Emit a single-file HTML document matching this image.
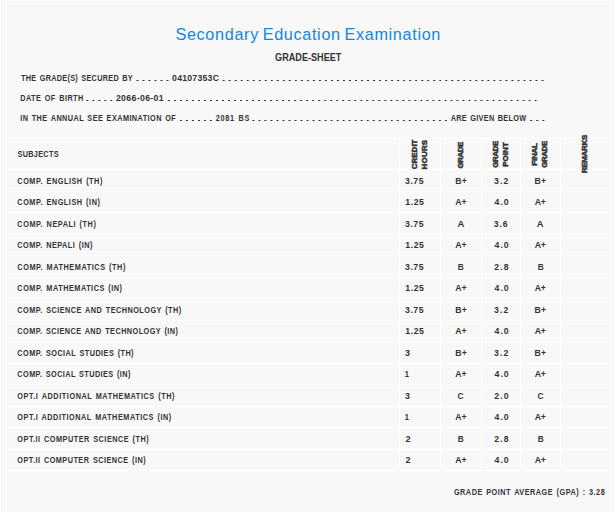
<!DOCTYPE html>
<html><head><meta charset="utf-8"><style>
html,body{margin:0;padding:0;background:#fff;width:614px;height:512px;overflow:hidden}
svg{display:block;font-family:"Liberation Sans",sans-serif}
</style></head><body>
<svg width="614" height="512" viewBox="0 0 614 512">
<rect x="0" y="0" width="614" height="512" fill="#ffffff"/>
<rect x="1" y="0" width="5" height="512" fill="#f8f8f8"/>
<rect x="7" y="1" width="603" height="511" fill="#f8f8f8"/>
<rect x="611" y="0" width="3" height="512" fill="#f8f8f8"/>
<g fill="#ffffff">
<rect x="7" y="138" width="603" height="1"/>
<rect x="7" y="169" width="603" height="1"/>
<rect x="7" y="191" width="603" height="1"/>
<rect x="7" y="212" width="603" height="1"/>
<rect x="7" y="234" width="603" height="1"/>
<rect x="7" y="255" width="603" height="1"/>
<rect x="7" y="277" width="603" height="1"/>
<rect x="7" y="298" width="603" height="1"/>
<rect x="7" y="320" width="603" height="1"/>
<rect x="7" y="341" width="603" height="1"/>
<rect x="7" y="363" width="603" height="1"/>
<rect x="7" y="384" width="603" height="1"/>
<rect x="7" y="406" width="603" height="1"/>
<rect x="7" y="427" width="603" height="1"/>
<rect x="7" y="449" width="603" height="1"/>
<rect x="7" y="470" width="603" height="1"/>
<rect x="399" y="138" width="1" height="333"/>
<rect x="440" y="138" width="1" height="333"/>
<rect x="481" y="138" width="1" height="333"/>
<rect x="520" y="138" width="1" height="333"/>
<rect x="560" y="138" width="1" height="333"/>
</g>
<g fill="#333333">
<rect x="136.50" y="80" width="2" height="1"/>
<rect x="142.50" y="80" width="2" height="1"/>
<rect x="148.50" y="80" width="2" height="1"/>
<rect x="154.50" y="80" width="2" height="1"/>
<rect x="160.50" y="80" width="2" height="1"/>
<rect x="166.50" y="80" width="2" height="1"/>
<rect x="222.65" y="80" width="2" height="1"/>
<rect x="228.67" y="80" width="2" height="1"/>
<rect x="234.68" y="80" width="2" height="1"/>
<rect x="240.70" y="80" width="2" height="1"/>
<rect x="246.71" y="80" width="2" height="1"/>
<rect x="252.73" y="80" width="2" height="1"/>
<rect x="258.75" y="80" width="2" height="1"/>
<rect x="264.76" y="80" width="2" height="1"/>
<rect x="270.78" y="80" width="2" height="1"/>
<rect x="276.79" y="80" width="2" height="1"/>
<rect x="282.81" y="80" width="2" height="1"/>
<rect x="288.83" y="80" width="2" height="1"/>
<rect x="294.84" y="80" width="2" height="1"/>
<rect x="300.86" y="80" width="2" height="1"/>
<rect x="306.87" y="80" width="2" height="1"/>
<rect x="312.89" y="80" width="2" height="1"/>
<rect x="318.91" y="80" width="2" height="1"/>
<rect x="324.92" y="80" width="2" height="1"/>
<rect x="330.94" y="80" width="2" height="1"/>
<rect x="336.95" y="80" width="2" height="1"/>
<rect x="342.97" y="80" width="2" height="1"/>
<rect x="348.99" y="80" width="2" height="1"/>
<rect x="355.00" y="80" width="2" height="1"/>
<rect x="361.02" y="80" width="2" height="1"/>
<rect x="367.03" y="80" width="2" height="1"/>
<rect x="373.05" y="80" width="2" height="1"/>
<rect x="379.07" y="80" width="2" height="1"/>
<rect x="385.08" y="80" width="2" height="1"/>
<rect x="391.10" y="80" width="2" height="1"/>
<rect x="397.12" y="80" width="2" height="1"/>
<rect x="403.13" y="80" width="2" height="1"/>
<rect x="409.15" y="80" width="2" height="1"/>
<rect x="415.16" y="80" width="2" height="1"/>
<rect x="421.18" y="80" width="2" height="1"/>
<rect x="427.20" y="80" width="2" height="1"/>
<rect x="433.21" y="80" width="2" height="1"/>
<rect x="439.23" y="80" width="2" height="1"/>
<rect x="445.24" y="80" width="2" height="1"/>
<rect x="451.26" y="80" width="2" height="1"/>
<rect x="457.28" y="80" width="2" height="1"/>
<rect x="463.29" y="80" width="2" height="1"/>
<rect x="469.31" y="80" width="2" height="1"/>
<rect x="475.32" y="80" width="2" height="1"/>
<rect x="481.34" y="80" width="2" height="1"/>
<rect x="487.36" y="80" width="2" height="1"/>
<rect x="493.37" y="80" width="2" height="1"/>
<rect x="499.39" y="80" width="2" height="1"/>
<rect x="505.40" y="80" width="2" height="1"/>
<rect x="511.42" y="80" width="2" height="1"/>
<rect x="517.44" y="80" width="2" height="1"/>
<rect x="523.45" y="80" width="2" height="1"/>
<rect x="529.47" y="80" width="2" height="1"/>
<rect x="535.48" y="80" width="2" height="1"/>
<rect x="541.50" y="80" width="2" height="1"/>
<rect x="86.40" y="100" width="2" height="1"/>
<rect x="92.38" y="100" width="2" height="1"/>
<rect x="98.35" y="100" width="2" height="1"/>
<rect x="104.33" y="100" width="2" height="1"/>
<rect x="110.30" y="100" width="2" height="1"/>
<rect x="167.90" y="100" width="2" height="1"/>
<rect x="173.91" y="100" width="2" height="1"/>
<rect x="179.92" y="100" width="2" height="1"/>
<rect x="185.93" y="100" width="2" height="1"/>
<rect x="191.95" y="100" width="2" height="1"/>
<rect x="197.96" y="100" width="2" height="1"/>
<rect x="203.97" y="100" width="2" height="1"/>
<rect x="209.98" y="100" width="2" height="1"/>
<rect x="215.99" y="100" width="2" height="1"/>
<rect x="222.00" y="100" width="2" height="1"/>
<rect x="228.01" y="100" width="2" height="1"/>
<rect x="234.03" y="100" width="2" height="1"/>
<rect x="240.04" y="100" width="2" height="1"/>
<rect x="246.05" y="100" width="2" height="1"/>
<rect x="252.06" y="100" width="2" height="1"/>
<rect x="258.07" y="100" width="2" height="1"/>
<rect x="264.08" y="100" width="2" height="1"/>
<rect x="270.10" y="100" width="2" height="1"/>
<rect x="276.11" y="100" width="2" height="1"/>
<rect x="282.12" y="100" width="2" height="1"/>
<rect x="288.13" y="100" width="2" height="1"/>
<rect x="294.14" y="100" width="2" height="1"/>
<rect x="300.15" y="100" width="2" height="1"/>
<rect x="306.16" y="100" width="2" height="1"/>
<rect x="312.18" y="100" width="2" height="1"/>
<rect x="318.19" y="100" width="2" height="1"/>
<rect x="324.20" y="100" width="2" height="1"/>
<rect x="330.21" y="100" width="2" height="1"/>
<rect x="336.22" y="100" width="2" height="1"/>
<rect x="342.23" y="100" width="2" height="1"/>
<rect x="348.24" y="100" width="2" height="1"/>
<rect x="354.26" y="100" width="2" height="1"/>
<rect x="360.27" y="100" width="2" height="1"/>
<rect x="366.28" y="100" width="2" height="1"/>
<rect x="372.29" y="100" width="2" height="1"/>
<rect x="378.30" y="100" width="2" height="1"/>
<rect x="384.31" y="100" width="2" height="1"/>
<rect x="390.32" y="100" width="2" height="1"/>
<rect x="396.34" y="100" width="2" height="1"/>
<rect x="402.35" y="100" width="2" height="1"/>
<rect x="408.36" y="100" width="2" height="1"/>
<rect x="414.37" y="100" width="2" height="1"/>
<rect x="420.38" y="100" width="2" height="1"/>
<rect x="426.39" y="100" width="2" height="1"/>
<rect x="432.40" y="100" width="2" height="1"/>
<rect x="438.42" y="100" width="2" height="1"/>
<rect x="444.43" y="100" width="2" height="1"/>
<rect x="450.44" y="100" width="2" height="1"/>
<rect x="456.45" y="100" width="2" height="1"/>
<rect x="462.46" y="100" width="2" height="1"/>
<rect x="468.47" y="100" width="2" height="1"/>
<rect x="474.49" y="100" width="2" height="1"/>
<rect x="480.50" y="100" width="2" height="1"/>
<rect x="486.51" y="100" width="2" height="1"/>
<rect x="492.52" y="100" width="2" height="1"/>
<rect x="498.53" y="100" width="2" height="1"/>
<rect x="504.54" y="100" width="2" height="1"/>
<rect x="510.55" y="100" width="2" height="1"/>
<rect x="516.57" y="100" width="2" height="1"/>
<rect x="522.58" y="100" width="2" height="1"/>
<rect x="528.59" y="100" width="2" height="1"/>
<rect x="534.60" y="100" width="2" height="1"/>
<rect x="179.90" y="120" width="2" height="1"/>
<rect x="185.90" y="120" width="2" height="1"/>
<rect x="191.90" y="120" width="2" height="1"/>
<rect x="197.90" y="120" width="2" height="1"/>
<rect x="203.90" y="120" width="2" height="1"/>
<rect x="209.90" y="120" width="2" height="1"/>
<rect x="252.40" y="120" width="2" height="1"/>
<rect x="258.42" y="120" width="2" height="1"/>
<rect x="264.43" y="120" width="2" height="1"/>
<rect x="270.45" y="120" width="2" height="1"/>
<rect x="276.46" y="120" width="2" height="1"/>
<rect x="282.48" y="120" width="2" height="1"/>
<rect x="288.49" y="120" width="2" height="1"/>
<rect x="294.51" y="120" width="2" height="1"/>
<rect x="300.52" y="120" width="2" height="1"/>
<rect x="306.54" y="120" width="2" height="1"/>
<rect x="312.56" y="120" width="2" height="1"/>
<rect x="318.57" y="120" width="2" height="1"/>
<rect x="324.59" y="120" width="2" height="1"/>
<rect x="330.60" y="120" width="2" height="1"/>
<rect x="336.62" y="120" width="2" height="1"/>
<rect x="342.63" y="120" width="2" height="1"/>
<rect x="348.65" y="120" width="2" height="1"/>
<rect x="354.67" y="120" width="2" height="1"/>
<rect x="360.68" y="120" width="2" height="1"/>
<rect x="366.70" y="120" width="2" height="1"/>
<rect x="372.71" y="120" width="2" height="1"/>
<rect x="378.73" y="120" width="2" height="1"/>
<rect x="384.74" y="120" width="2" height="1"/>
<rect x="390.76" y="120" width="2" height="1"/>
<rect x="396.77" y="120" width="2" height="1"/>
<rect x="402.79" y="120" width="2" height="1"/>
<rect x="408.81" y="120" width="2" height="1"/>
<rect x="414.82" y="120" width="2" height="1"/>
<rect x="420.84" y="120" width="2" height="1"/>
<rect x="426.85" y="120" width="2" height="1"/>
<rect x="432.87" y="120" width="2" height="1"/>
<rect x="438.88" y="120" width="2" height="1"/>
<rect x="444.90" y="120" width="2" height="1"/>
<rect x="530.20" y="120" width="2" height="1"/>
<rect x="536.30" y="120" width="2" height="1"/>
<rect x="542.40" y="120" width="2" height="1"/>
</g>
<text transform="translate(175.454 40) scale(0.9300 1)" font-size="17.4" font-weight="normal" fill="#0d87e9" style="letter-spacing:0.730px;word-spacing:-1.5px">Secondary Education Examination</text>
<text transform="translate(275.055 61) scale(0.8000 1)" font-size="11.4" font-weight="bold" fill="#333333" style="letter-spacing:0.008px">GRADE-SHEET</text>
<text transform="translate(21.020 81) scale(0.8400 1)" font-size="8.7" font-weight="bold" fill="#333333" style="letter-spacing:0.345px;word-spacing:1.1px">THE GRADE(S) SECURED BY</text>
<text transform="translate(172.068 81) scale(1.0000 1)" font-size="8.7" font-weight="bold" fill="#333333" style="letter-spacing:0.243px;word-spacing:1.1px">04107353C</text>
<text transform="translate(20.203 101) scale(0.8400 1)" font-size="8.7" font-weight="bold" fill="#333333" style="letter-spacing:0.543px;word-spacing:1.1px">DATE OF BIRTH</text>
<text transform="translate(115.888 101) scale(1.0000 1)" font-size="8.7" font-weight="bold" fill="#333333" style="letter-spacing:0.367px;word-spacing:1.1px">2066-06-01</text>
<text transform="translate(20.203 121) scale(0.8400 1)" font-size="8.7" font-weight="bold" fill="#333333" style="letter-spacing:0.513px;word-spacing:1.1px">IN THE ANNUAL SEE EXAMINATION OF</text>
<text transform="translate(215.772 121) scale(0.8400 1)" font-size="8.7" font-weight="bold" fill="#333333" style="letter-spacing:0.849px;word-spacing:1.1px">2081 BS</text>
<text transform="translate(450.726 121) scale(0.8400 1)" font-size="8.7" font-weight="bold" fill="#333333" style="letter-spacing:0.355px;word-spacing:1.1px">ARE GIVEN BELOW</text>
<text transform="translate(17.466 157) scale(0.8400 1)" font-size="8.7" font-weight="bold" fill="#333333" style="letter-spacing:0.378px;word-spacing:1.1px">SUBJECTS</text>
<text transform="translate(17.352 184) scale(0.8400 1)" font-size="8.7" font-weight="bold" fill="#333333" style="letter-spacing:0.641px;word-spacing:1.1px">COMP. ENGLISH (TH)</text>
<text transform="translate(405.024 184) scale(1.0000 1)" font-size="8.7" font-weight="bold" fill="#333333" style="letter-spacing:0.540px;word-spacing:1.1px">3.75</text>
<text transform="translate(455.216 184) scale(1.0000 1)" font-size="8.7" font-weight="bold" fill="#333333" style="letter-spacing:0.203px;word-spacing:1.1px">B+</text>
<text transform="translate(494.124 184) scale(1.0000 1)" font-size="8.7" font-weight="bold" fill="#333333" style="letter-spacing:1.079px;word-spacing:1.1px">3.2</text>
<text transform="translate(534.536 184) scale(1.0000 1)" font-size="8.7" font-weight="bold" fill="#333333" style="letter-spacing:0.203px;word-spacing:1.1px">B+</text>
<text transform="translate(17.352 205) scale(0.8400 1)" font-size="8.7" font-weight="bold" fill="#333333" style="letter-spacing:0.637px;word-spacing:1.1px">COMP. ENGLISH (IN)</text>
<text transform="translate(405.316 205) scale(1.0000 1)" font-size="8.7" font-weight="bold" fill="#333333" style="letter-spacing:0.543px;word-spacing:1.1px">1.25</text>
<text transform="translate(455.364 205) scale(1.0000 1)" font-size="8.7" font-weight="bold" fill="#333333" style="letter-spacing:-0.105px;word-spacing:1.1px">A+</text>
<text transform="translate(494.520 205) scale(1.0000 1)" font-size="8.7" font-weight="bold" fill="#333333" style="letter-spacing:1.029px;word-spacing:1.1px">4.0</text>
<text transform="translate(534.684 205) scale(1.0000 1)" font-size="8.7" font-weight="bold" fill="#333333" style="letter-spacing:-0.105px;word-spacing:1.1px">A+</text>
<text transform="translate(17.352 227) scale(0.8400 1)" font-size="8.7" font-weight="bold" fill="#333333" style="letter-spacing:0.660px;word-spacing:1.1px">COMP. NEPALI (TH)</text>
<text transform="translate(405.024 227) scale(1.0000 1)" font-size="8.7" font-weight="bold" fill="#333333" style="letter-spacing:0.540px;word-spacing:1.1px">3.75</text>
<text transform="translate(457.432 227) scale(1.0867 1)" font-size="8.7" font-weight="bold" fill="#333333" style="letter-spacing:0.000px;word-spacing:1.1px">A</text>
<text transform="translate(493.764 227) scale(1.0000 1)" font-size="8.7" font-weight="bold" fill="#333333" style="letter-spacing:0.879px;word-spacing:1.1px">3.6</text>
<text transform="translate(536.752 227) scale(1.0867 1)" font-size="8.7" font-weight="bold" fill="#333333" style="letter-spacing:0.000px;word-spacing:1.1px">A</text>
<text transform="translate(17.352 248) scale(0.8400 1)" font-size="8.7" font-weight="bold" fill="#333333" style="letter-spacing:0.581px;word-spacing:1.1px">COMP. NEPALI (IN)</text>
<text transform="translate(405.316 248) scale(1.0000 1)" font-size="8.7" font-weight="bold" fill="#333333" style="letter-spacing:0.543px;word-spacing:1.1px">1.25</text>
<text transform="translate(455.364 248) scale(1.0000 1)" font-size="8.7" font-weight="bold" fill="#333333" style="letter-spacing:-0.105px;word-spacing:1.1px">A+</text>
<text transform="translate(494.520 248) scale(1.0000 1)" font-size="8.7" font-weight="bold" fill="#333333" style="letter-spacing:1.029px;word-spacing:1.1px">4.0</text>
<text transform="translate(534.684 248) scale(1.0000 1)" font-size="8.7" font-weight="bold" fill="#333333" style="letter-spacing:-0.105px;word-spacing:1.1px">A+</text>
<text transform="translate(17.352 270) scale(0.8400 1)" font-size="8.7" font-weight="bold" fill="#333333" style="letter-spacing:0.666px;word-spacing:1.1px">COMP. MATHEMATICS (TH)</text>
<text transform="translate(405.024 270) scale(1.0000 1)" font-size="8.7" font-weight="bold" fill="#333333" style="letter-spacing:0.540px;word-spacing:1.1px">3.75</text>
<text transform="translate(457.640 270) scale(0.9563 1)" font-size="8.7" font-weight="bold" fill="#333333" style="letter-spacing:0.000px;word-spacing:1.1px">B</text>
<text transform="translate(494.248 270) scale(1.0000 1)" font-size="8.7" font-weight="bold" fill="#333333" style="letter-spacing:1.097px;word-spacing:1.1px">2.8</text>
<text transform="translate(537.660 270) scale(0.9563 1)" font-size="8.7" font-weight="bold" fill="#333333" style="letter-spacing:0.000px;word-spacing:1.1px">B</text>
<text transform="translate(17.352 291) scale(0.8400 1)" font-size="8.7" font-weight="bold" fill="#333333" style="letter-spacing:0.614px;word-spacing:1.1px">COMP. MATHEMATICS (IN)</text>
<text transform="translate(405.316 291) scale(1.0000 1)" font-size="8.7" font-weight="bold" fill="#333333" style="letter-spacing:0.543px;word-spacing:1.1px">1.25</text>
<text transform="translate(455.364 291) scale(1.0000 1)" font-size="8.7" font-weight="bold" fill="#333333" style="letter-spacing:-0.105px;word-spacing:1.1px">A+</text>
<text transform="translate(494.520 291) scale(1.0000 1)" font-size="8.7" font-weight="bold" fill="#333333" style="letter-spacing:1.029px;word-spacing:1.1px">4.0</text>
<text transform="translate(534.684 291) scale(1.0000 1)" font-size="8.7" font-weight="bold" fill="#333333" style="letter-spacing:-0.105px;word-spacing:1.1px">A+</text>
<text transform="translate(17.352 313) scale(0.8400 1)" font-size="8.7" font-weight="bold" fill="#333333" style="letter-spacing:0.569px;word-spacing:1.1px">COMP. SCIENCE AND TECHNOLOGY (TH)</text>
<text transform="translate(405.024 313) scale(1.0000 1)" font-size="8.7" font-weight="bold" fill="#333333" style="letter-spacing:0.540px;word-spacing:1.1px">3.75</text>
<text transform="translate(455.216 313) scale(1.0000 1)" font-size="8.7" font-weight="bold" fill="#333333" style="letter-spacing:0.203px;word-spacing:1.1px">B+</text>
<text transform="translate(494.124 313) scale(1.0000 1)" font-size="8.7" font-weight="bold" fill="#333333" style="letter-spacing:1.079px;word-spacing:1.1px">3.2</text>
<text transform="translate(534.536 313) scale(1.0000 1)" font-size="8.7" font-weight="bold" fill="#333333" style="letter-spacing:0.203px;word-spacing:1.1px">B+</text>
<text transform="translate(17.352 334) scale(0.8400 1)" font-size="8.7" font-weight="bold" fill="#333333" style="letter-spacing:0.536px;word-spacing:1.1px">COMP. SCIENCE AND TECHNOLOGY (IN)</text>
<text transform="translate(405.316 334) scale(1.0000 1)" font-size="8.7" font-weight="bold" fill="#333333" style="letter-spacing:0.543px;word-spacing:1.1px">1.25</text>
<text transform="translate(455.364 334) scale(1.0000 1)" font-size="8.7" font-weight="bold" fill="#333333" style="letter-spacing:-0.105px;word-spacing:1.1px">A+</text>
<text transform="translate(494.520 334) scale(1.0000 1)" font-size="8.7" font-weight="bold" fill="#333333" style="letter-spacing:1.029px;word-spacing:1.1px">4.0</text>
<text transform="translate(534.684 334) scale(1.0000 1)" font-size="8.7" font-weight="bold" fill="#333333" style="letter-spacing:-0.105px;word-spacing:1.1px">A+</text>
<text transform="translate(17.352 356) scale(0.8400 1)" font-size="8.7" font-weight="bold" fill="#333333" style="letter-spacing:0.536px;word-spacing:1.1px">COMP. SOCIAL STUDIES (TH)</text>
<text transform="translate(405.021 356) scale(1.0254 1)" font-size="8.7" font-weight="bold" fill="#333333" style="letter-spacing:0.000px;word-spacing:1.1px">3</text>
<text transform="translate(455.216 356) scale(1.0000 1)" font-size="8.7" font-weight="bold" fill="#333333" style="letter-spacing:0.203px;word-spacing:1.1px">B+</text>
<text transform="translate(494.124 356) scale(1.0000 1)" font-size="8.7" font-weight="bold" fill="#333333" style="letter-spacing:1.079px;word-spacing:1.1px">3.2</text>
<text transform="translate(534.536 356) scale(1.0000 1)" font-size="8.7" font-weight="bold" fill="#333333" style="letter-spacing:0.203px;word-spacing:1.1px">B+</text>
<text transform="translate(17.352 377) scale(0.8400 1)" font-size="8.7" font-weight="bold" fill="#333333" style="letter-spacing:0.499px;word-spacing:1.1px">COMP. SOCIAL STUDIES (IN)</text>
<text transform="translate(404.693 377) scale(0.8582 1)" font-size="8.7" font-weight="bold" fill="#333333" style="letter-spacing:0.000px;word-spacing:1.1px">1</text>
<text transform="translate(455.364 377) scale(1.0000 1)" font-size="8.7" font-weight="bold" fill="#333333" style="letter-spacing:-0.105px;word-spacing:1.1px">A+</text>
<text transform="translate(494.520 377) scale(1.0000 1)" font-size="8.7" font-weight="bold" fill="#333333" style="letter-spacing:1.029px;word-spacing:1.1px">4.0</text>
<text transform="translate(534.684 377) scale(1.0000 1)" font-size="8.7" font-weight="bold" fill="#333333" style="letter-spacing:-0.105px;word-spacing:1.1px">A+</text>
<text transform="translate(17.352 399) scale(0.8400 1)" font-size="8.7" font-weight="bold" fill="#333333" style="letter-spacing:0.677px;word-spacing:1.1px">OPT.I ADDITIONAL MATHEMATICS (TH)</text>
<text transform="translate(405.021 399) scale(1.0254 1)" font-size="8.7" font-weight="bold" fill="#333333" style="letter-spacing:0.000px;word-spacing:1.1px">3</text>
<text transform="translate(457.560 399) scale(0.9580 1)" font-size="8.7" font-weight="bold" fill="#333333" style="letter-spacing:0.000px;word-spacing:1.1px">C</text>
<text transform="translate(494.248 399) scale(1.0000 1)" font-size="8.7" font-weight="bold" fill="#333333" style="letter-spacing:1.165px;word-spacing:1.1px">2.0</text>
<text transform="translate(537.580 399) scale(0.9580 1)" font-size="8.7" font-weight="bold" fill="#333333" style="letter-spacing:0.000px;word-spacing:1.1px">C</text>
<text transform="translate(17.352 420) scale(0.8400 1)" font-size="8.7" font-weight="bold" fill="#333333" style="letter-spacing:0.643px;word-spacing:1.1px">OPT.I ADDITIONAL MATHEMATICS (IN)</text>
<text transform="translate(404.693 420) scale(0.8582 1)" font-size="8.7" font-weight="bold" fill="#333333" style="letter-spacing:0.000px;word-spacing:1.1px">1</text>
<text transform="translate(455.364 420) scale(1.0000 1)" font-size="8.7" font-weight="bold" fill="#333333" style="letter-spacing:-0.105px;word-spacing:1.1px">A+</text>
<text transform="translate(494.520 420) scale(1.0000 1)" font-size="8.7" font-weight="bold" fill="#333333" style="letter-spacing:1.029px;word-spacing:1.1px">4.0</text>
<text transform="translate(534.684 420) scale(1.0000 1)" font-size="8.7" font-weight="bold" fill="#333333" style="letter-spacing:-0.105px;word-spacing:1.1px">A+</text>
<text transform="translate(17.352 442) scale(0.8400 1)" font-size="8.7" font-weight="bold" fill="#333333" style="letter-spacing:0.595px;word-spacing:1.1px">OPT.II COMPUTER SCIENCE (TH)</text>
<text transform="translate(405.573 442) scale(1.0575 1)" font-size="8.7" font-weight="bold" fill="#333333" style="letter-spacing:0.000px;word-spacing:1.1px">2</text>
<text transform="translate(457.640 442) scale(0.9563 1)" font-size="8.7" font-weight="bold" fill="#333333" style="letter-spacing:0.000px;word-spacing:1.1px">B</text>
<text transform="translate(494.248 442) scale(1.0000 1)" font-size="8.7" font-weight="bold" fill="#333333" style="letter-spacing:1.097px;word-spacing:1.1px">2.8</text>
<text transform="translate(537.660 442) scale(0.9563 1)" font-size="8.7" font-weight="bold" fill="#333333" style="letter-spacing:0.000px;word-spacing:1.1px">B</text>
<text transform="translate(17.352 463) scale(0.8400 1)" font-size="8.7" font-weight="bold" fill="#333333" style="letter-spacing:0.570px;word-spacing:1.1px">OPT.II COMPUTER SCIENCE (IN)</text>
<text transform="translate(405.573 463) scale(1.0575 1)" font-size="8.7" font-weight="bold" fill="#333333" style="letter-spacing:0.000px;word-spacing:1.1px">2</text>
<text transform="translate(455.364 463) scale(1.0000 1)" font-size="8.7" font-weight="bold" fill="#333333" style="letter-spacing:-0.105px;word-spacing:1.1px">A+</text>
<text transform="translate(494.520 463) scale(1.0000 1)" font-size="8.7" font-weight="bold" fill="#333333" style="letter-spacing:1.029px;word-spacing:1.1px">4.0</text>
<text transform="translate(534.684 463) scale(1.0000 1)" font-size="8.7" font-weight="bold" fill="#333333" style="letter-spacing:-0.105px;word-spacing:1.1px">A+</text>
<text transform="translate(453.932 495) scale(0.8400 1)" font-size="8.7" font-weight="bold" fill="#333333" style="letter-spacing:0.593px;word-spacing:1.1px">GRADE POINT AVERAGE (GPA) : 3.28</text>
<text transform="translate(417.0 169.250) rotate(-90) scale(1.0000 1)" font-size="8.0" font-weight="bold" fill="#333333" stroke="#333333" stroke-width="0.5" style="letter-spacing:-0.007px">CREDIT</text>
<text transform="translate(426.79999999999995 169.500) rotate(-90) scale(1.0000 1)" font-size="8.0" font-weight="bold" fill="#333333" stroke="#333333" stroke-width="0.5" style="letter-spacing:0.205px">HOURS</text>
<text transform="translate(462.7 168.390) rotate(-90) scale(1.0000 1)" font-size="8.0" font-weight="bold" fill="#333333" stroke="#333333" stroke-width="0.5" style="letter-spacing:-0.572px">GRADE</text>
<text transform="translate(498.4 167.730) rotate(-90) scale(1.0000 1)" font-size="8.0" font-weight="bold" fill="#333333" stroke="#333333" stroke-width="0.5" style="letter-spacing:-0.487px">GRADE</text>
<text transform="translate(507.79999999999995 166.820) rotate(-90) scale(1.0000 1)" font-size="8.0" font-weight="bold" fill="#333333" stroke="#333333" stroke-width="0.5" style="letter-spacing:0.052px">POINT</text>
<text transform="translate(536.9 165.660) rotate(-90) scale(1.0000 1)" font-size="8.0" font-weight="bold" fill="#333333" stroke="#333333" stroke-width="0.5" style="letter-spacing:-0.274px">FINAL</text>
<text transform="translate(547.3 167.730) rotate(-90) scale(1.0000 1)" font-size="8.0" font-weight="bold" fill="#333333" stroke="#333333" stroke-width="0.5" style="letter-spacing:-0.487px">GRADE</text>
<text transform="translate(586.6999999999999 173.320) rotate(-90) scale(1.0000 1)" font-size="8.0" font-weight="bold" fill="#333333" stroke="#333333" stroke-width="0.5" style="letter-spacing:-0.292px">REMARKS</text>
</svg>
</body></html>
